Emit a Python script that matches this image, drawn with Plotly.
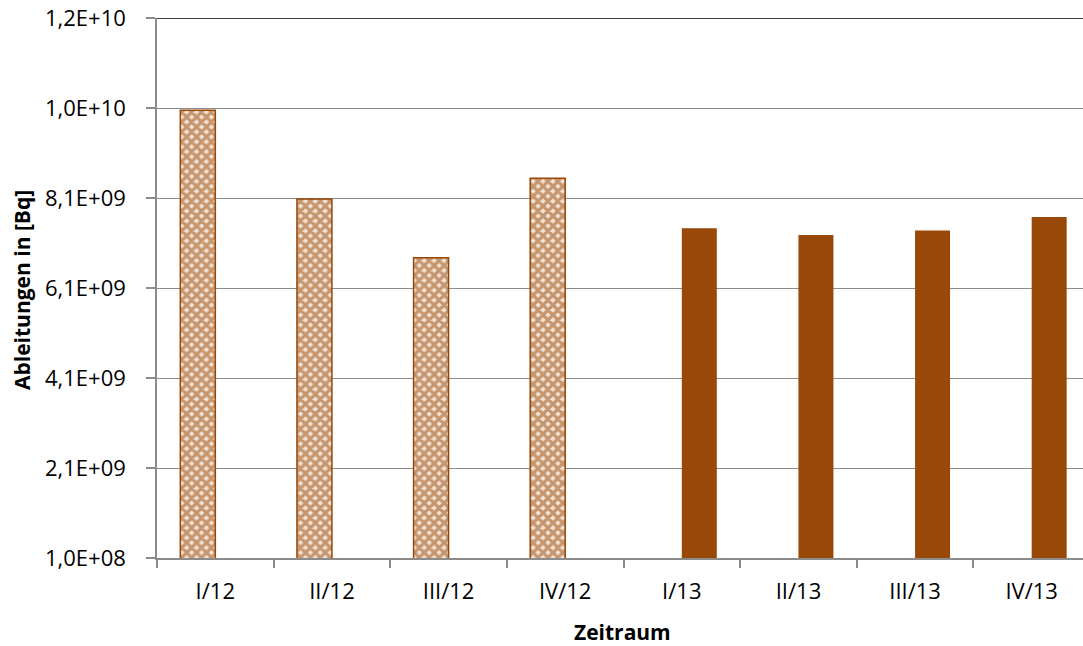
import plotly.graph_objects as go

categories = ["I/12", "II/12", "III/12", "IV/12", "I/13", "II/13", "III/13", "IV/13"]
values_2012 = [1.005e10, 8.08e9, 6.77e9, 8.54e9, None, None, None, None]
values_2013 = [None, None, None, None, 7.43e9, 7.28e9, 7.38e9, 7.68e9]
tick_vals = [1.0e8, 2.1e9, 4.1e9, 6.1e9, 8.1e9, 1.01e10, 1.21e10]
tick_text = ["1,0E+08", "2,1E+09", "4,1E+09", "6,1E+09", "8,1E+09", "1,0E+10", "1,2E+10"]

brown = "#984807"
font = "Open Sans, sans-serif"

fig = go.Figure()
fig.add_trace(go.Bar(
    x=categories, y=values_2012, name="2012",
    marker=dict(color="#eed8c6", line=dict(color=brown, width=1.5),
                pattern=dict(shape="x", fgcolor=brown, bgcolor="#f3e2d4", size=7, solidity=0.7)),
))
fig.add_trace(go.Bar(
    x=categories, y=values_2013, name="2013",
    marker=dict(color=brown, line=dict(color=brown, width=0)),
))

fig.update_layout(
    width=1083, height=646,
    margin=dict(l=157, r=0, t=18, b=88, autoexpand=False),
    paper_bgcolor="white", plot_bgcolor="white",
    barmode="group", bargap=0.4, bargroupgap=0,
    showlegend=False,
    font=dict(family=font, size=22, color="black"),
)
fig.update_xaxes(
    range=[-0.5, 7.44], automargin=False,
    showline=True, linecolor="#8c8c8c", linewidth=1.5,
    ticks="outside", tickson="boundaries", ticklen=8, tickcolor="#8c8c8c", tickwidth=1.5,
    ticklabelstandoff=13,
    showgrid=False,
    tickfont=dict(family=font, size=22),
)
fig.update_yaxes(
    range=[1.0e8, 1.21e10], automargin=False,
    tickvals=tick_vals, ticktext=tick_text,
    showline=True, linecolor="#8c8c8c", linewidth=1.5,
    ticks="outside", ticklen=9, tickcolor="#8c8c8c", tickwidth=1.5,
    ticklabelstandoff=16,
    showgrid=True, gridcolor="#8c8c8c", gridwidth=1.2,
    zeroline=False,
    tickfont=dict(family=font, size=22),
)
fig.add_shape(type="line", xref="paper", yref="y", x0=0, x1=1, y0=1.21e10, y1=1.21e10,
              line=dict(color="black", width=1.5))
fig.add_annotation(text="<b>Zeitraum</b>", xref="paper", yref="paper",
                   x=(622.5 - 157) / (1083 - 157), y=-(632 - 558) / (558 - 18),
                   showarrow=False, font=dict(family=font, size=21),
                   xanchor="center", yanchor="middle")
fig.add_annotation(text="<b>Ableitungen in [Bq]</b>", xref="paper", yref="paper",
                   x=-(157 - 22) / (1083 - 157), y=(558 - 290) / (558 - 18),
                   showarrow=False, textangle=-90, font=dict(family=font, size=21),
                   xanchor="center", yanchor="middle")

fig.write_html("out.html", config={"displayModeBar": False},
               post_script="document.body.style.margin='0';document.body.style.padding='0';")
